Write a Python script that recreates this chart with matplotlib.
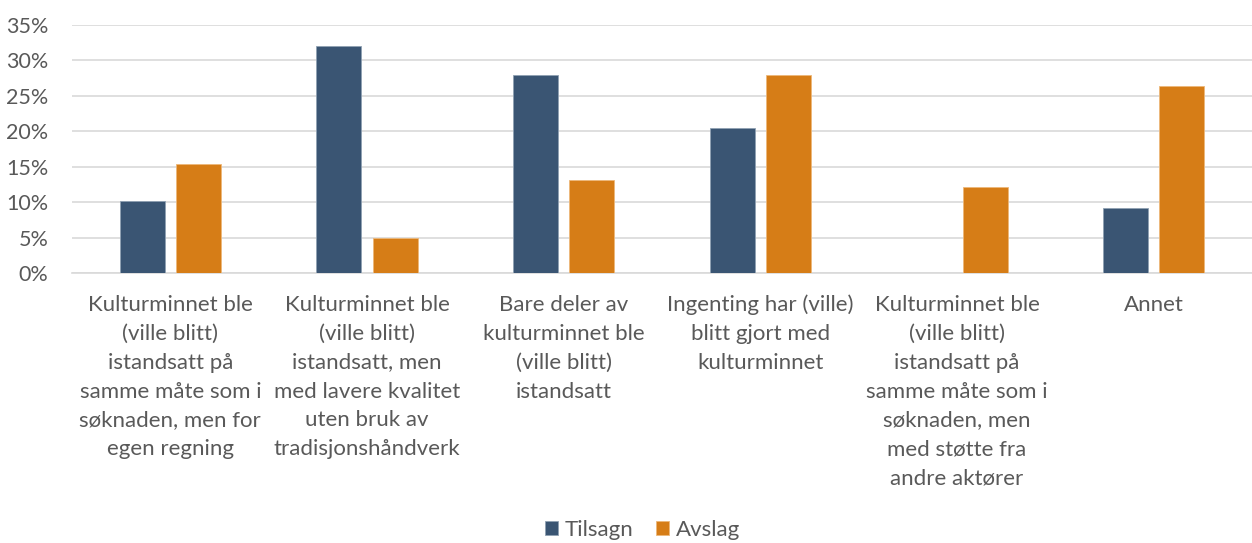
import numpy as np
import matplotlib
matplotlib.use("Agg")
from matplotlib import pyplot as plt
from matplotlib.ticker import PercentFormatter

categories = [
    "Kulturminnet ble\n(ville blitt)\nistandsatt på\nsamme måte som i\nsøknaden, men for\negen regning",
    "Kulturminnet ble\n(ville blitt)\nistandsatt, men\nmed lavere kvalitet\nuten bruk av\ntradisjonshåndverk",
    "Bare deler av\nkulturminnet ble\n(ville blitt)\nistandsatt",
    "Ingenting har (ville)\nblitt gjort med\nkulturminnet",
    "Kulturminnet ble\n(ville blitt)\nistandsatt på\nsamme måte som i\nsøknaden, men\nmed støtte fra\nandre aktører",
    "Annet",
]
tilsagn = [10.2, 32.1, 28.0, 20.5, 0.0, 9.2]
avslag = [15.4, 5.0, 13.2, 27.9, 12.1, 26.4]
series_names = ["Tilsagn", "Avslag"]

navy = "#3A5573"
orange = "#D67D17"
text_color = "#595959"
grid_color = "#D9D9D9"

plt.rcParams["font.family"] = ["Lato", "DejaVu Sans"]

fig = plt.figure(figsize=(12.52, 5.43), dpi=100)
ax = fig.add_axes([0.0575, 0.497, 0.9425, 0.457])

x = np.arange(len(categories))
width = 0.229
offset = 0.143
ax.bar(x - offset, tilsagn, width, color=navy, edgecolor="#8FA1B3", linewidth=0.6,
       label=series_names[0], zorder=3)
ax.bar(x + offset, avslag, width, color=orange, edgecolor="#EDB87A", linewidth=0.6,
       label=series_names[1], zorder=3)

ax.set_xlim(-0.5, len(categories) - 0.5)
ax.set_ylim(0, 35)
ax.set_yticks(np.arange(0, 36, 5))
ax.yaxis.set_major_formatter(PercentFormatter(decimals=0))
ax.grid(axis="y", color=grid_color, linewidth=1.2, zorder=0)
for side in ["top", "right", "left"]:
    ax.spines[side].set_visible(False)
ax.spines["bottom"].set_color(grid_color)
ax.spines["bottom"].set_linewidth(1.2)

ax.set_xticks(x)
ax.set_xticklabels(categories, fontsize=16, color=text_color, linespacing=1.56, va="top")
ax.tick_params(axis="x", length=0, pad=15.5)
ax.tick_params(axis="y", length=0, pad=17, labelsize=15.5, labelcolor=text_color)

fig.legend(loc="lower center", bbox_to_anchor=(0.513, -0.031), ncol=2, frameon=False,
           fontsize=16, labelcolor=text_color, handlelength=0.6, handleheight=0.6,
           handletextpad=0.3, columnspacing=1.0)

fig.savefig("out.png", dpi=100)
